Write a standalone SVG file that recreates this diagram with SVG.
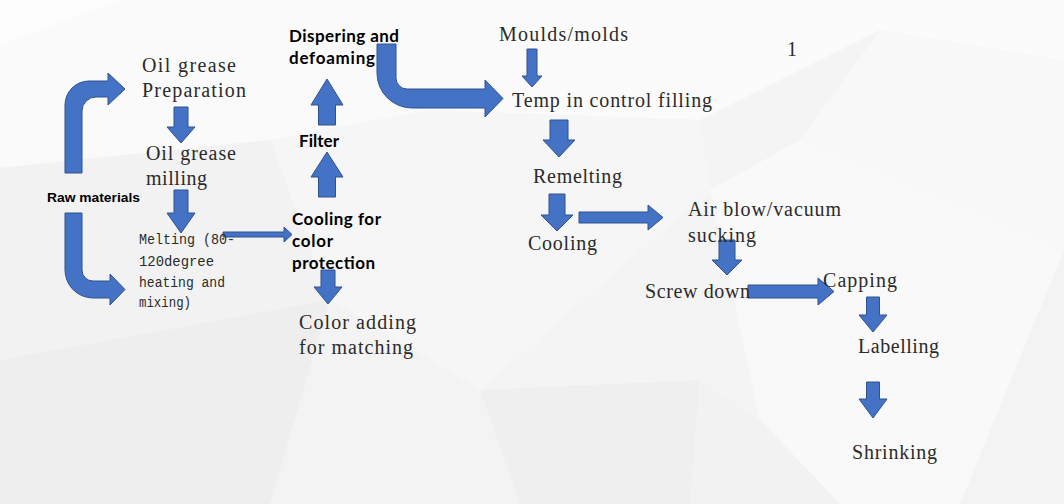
<svg xmlns="http://www.w3.org/2000/svg" width="1064" height="504" viewBox="0 0 1064 504">
<style>
.bg{stroke:none}
.arr{fill:#4472C4;stroke:#2F528F;stroke-width:1;stroke-linejoin:miter}
.ser{font-family:"Liberation Serif","Noto Sans CJK SC",serif;font-size:20px;fill:#2b2b2b}
.mono{font-family:"Liberation Mono","Noto Sans CJK SC",monospace;font-size:14px;fill:#2b2b2b}
.bold{font-family:Lato,"Open Sans","Liberation Sans",sans-serif;font-weight:700;font-size:17px;fill:#000}
.raw{font-family:"Liberation Sans",Arial,sans-serif;font-weight:700;font-size:13px;fill:#000}
</style>
<g id="background">
<rect class="bg" x="0" y="0" width="1064" height="504" fill="#f4f4f4"/>
<polygon class="bg" points="0,0 560,0 430,110 270,140 0,168" fill="#fafafa"/>
<polygon class="bg" points="0,0 120,0 0,45" fill="#fdfdfd"/>
<polygon class="bg" points="560,0 1064,0 1064,60 880,30 700,120 430,110" fill="#fbfbfb"/>
<polygon class="bg" points="880,30 1064,60 1064,250 800,140" fill="#f8f8f8"/>
<polygon class="bg" points="0,168 270,140 330,300 0,360" fill="#f2f2f2"/>
<polygon class="bg" points="0,360 330,300 270,504 0,504" fill="#eeeeee"/>
<polygon class="bg" points="270,504 330,300 480,390 520,504" fill="#f3f3f3"/>
<polygon class="bg" points="480,390 700,380 690,504 520,504" fill="#efefef"/>
<polygon class="bg" points="430,110 700,120 710,190 480,390 330,300 270,140" fill="#f6f6f6"/>
<polygon class="bg" points="710,190 800,140 1064,250 1064,504 840,504 760,420" fill="#f9f9f9"/>
<polygon class="bg" points="760,420 840,504 690,504 700,380" fill="#f2f2f2"/>
<polygon class="bg" points="1064,250 1064,504 960,504" fill="#f3f3f3"/>
</g>
<g id="connectors">
<path class="arr" d="M65,173 L65,105 A24,24 0 0 1 89,81 L108,81 L108,73 L125,89 L108,105 L108,97 L96,97 A14,14 0 0 0 82,111 L82,173 Z"/>
<path class="arr" d="M65,213 L65,270 A28,28 0 0 0 93,298 L110,298 L110,305 L125,289.5 L110,274 L110,281 L93,281 A11,11 0 0 1 82,270 L82,213 Z"/>
<path class="arr" d="M174,107 L188,107 L188,127 L195,127 L181,143 L167,127 L174,127 Z"/>
<path class="arr" d="M174,190 L188,190 L188,213 L195,213 L181,233 L167,213 L174,213 Z"/>
<path class="arr" d="M223,232 L284,232 L284,227 L292,234.5 L284,242 L284,237 L223,237 Z"/>
<path class="arr" d="M318.5,197 L318.5,177 L311,177 L327,152 L343,177 L335.5,177 L335.5,197 Z"/>
<path class="arr" d="M318.5,125 L318.5,105 L311,105 L327,79 L343,105 L335.5,105 L335.5,125 Z"/>
<path class="arr" d="M321,270 L335,270 L335,287 L342,287 L328,304 L314,287 L321,287 Z"/>
<path class="arr" d="M377,44 L396,44 L396,78 A11,11 0 0 0 407,89 L485,89 L485,80 L503,98.5 L485,117 L485,108 L412,108 A35,35 0 0 1 377,73 Z"/>
<path class="arr" d="M527,49 L537,49 L537,76 L542,76 L532,87 L522,76 L527,76 Z"/>
<path class="arr" d="M550,120 L568,120 L568,140 L575,140 L559,157 L543,140 L550,140 Z"/>
<path class="arr" d="M549,194 L565,194 L565,215 L573,215 L557,231 L541,215 L549,215 Z"/>
<path class="arr" d="M579,212 L648,212 L648,205 L663,217.5 L648,230 L648,223 L579,223 Z"/>
<path class="arr" d="M719,240 L735,240 L735,260 L742,260 L727,275 L712,260 L719,260 Z"/>
<path class="arr" d="M748,285 L818,285 L818,278 L834,291.5 L818,305 L818,298 L748,298 Z"/>
<path class="arr" d="M866.5,297 L879.5,297 L879.5,315 L887,315 L873,332 L859,315 L866.5,315 Z"/>
<path class="arr" d="M866.5,382 L879.5,382 L879.5,399 L887,399 L873,418 L859,399 L866.5,399 Z"/>
</g>
<g id="node-raw"><text class="raw" x="47" y="202" textLength="93" lengthAdjust="spacingAndGlyphs">Raw materials</text></g>
<g id="node-prep"><text class="ser" x="142" y="72" textLength="94" lengthAdjust="spacing">Oil grease</text><text class="ser" x="142" y="97" textLength="104" lengthAdjust="spacing">Preparation</text></g>
<g id="node-milling"><text class="ser" x="146" y="160" textLength="90" lengthAdjust="spacing">Oil grease</text><text class="ser" x="146" y="185" textLength="61" lengthAdjust="spacing">milling</text></g>
<g id="node-melting"><text class="mono" x="139" y="244" textLength="96" lengthAdjust="spacingAndGlyphs">Melting (80-</text><text class="mono" x="139" y="266" textLength="75" lengthAdjust="spacingAndGlyphs">120degree</text><text class="mono" x="139" y="287" textLength="86" lengthAdjust="spacingAndGlyphs">heating and</text><text class="mono" x="139" y="307" textLength="52" lengthAdjust="spacingAndGlyphs">mixing)</text></g>
<g id="node-cooling-color"><text class="bold" x="292" y="225" textLength="89" lengthAdjust="spacing">Cooling for</text><text class="bold" x="292" y="247" textLength="41" lengthAdjust="spacing">color</text><text class="bold" x="292" y="269" textLength="83" lengthAdjust="spacing">protection</text></g>
<g id="node-color-adding"><text class="ser" x="299" y="329" textLength="117" lengthAdjust="spacing">Color adding</text><text class="ser" x="299" y="354" textLength="114" lengthAdjust="spacing">for matching</text></g>
<g id="node-filter"><text class="bold" x="299" y="147" textLength="40" lengthAdjust="spacing">Filter</text></g>
<g id="node-dispering"><text class="bold" x="289" y="42" textLength="110" lengthAdjust="spacing">Dispering and</text><text class="bold" x="289" y="64" textLength="86" lengthAdjust="spacing">defoaming</text></g>
<g id="node-moulds"><text class="ser" x="499" y="41" textLength="129" lengthAdjust="spacing">Moulds/molds</text></g>
<g id="node-temp"><text class="ser" x="512" y="107" textLength="200" lengthAdjust="spacing">Temp in control filling</text></g>
<g id="node-remelting"><text class="ser" x="533" y="183" textLength="89" lengthAdjust="spacing">Remelting</text></g>
<g id="node-cooling"><text class="ser" x="528" y="250" textLength="69" lengthAdjust="spacing">Cooling</text></g>
<g id="node-airblow"><text class="ser" x="688" y="216" textLength="153" lengthAdjust="spacing">Air blow/vacuum</text><text class="ser" x="688" y="242" textLength="68" lengthAdjust="spacing">sucking</text></g>
<g id="node-screw"><text class="ser" x="645" y="298" textLength="105" lengthAdjust="spacing">Screw down</text></g>
<g id="node-capping"><text class="ser" x="823" y="287" textLength="74" lengthAdjust="spacing">Capping</text></g>
<g id="node-labelling"><text class="ser" x="858" y="353" textLength="81" lengthAdjust="spacing">Labelling</text></g>
<g id="node-shrinking"><text class="ser" x="852" y="459" textLength="85" lengthAdjust="spacing">Shrinking</text></g>
<g id="page-number"><text class="ser" x="787" y="56" font-size="18">1</text></g>
</svg>
